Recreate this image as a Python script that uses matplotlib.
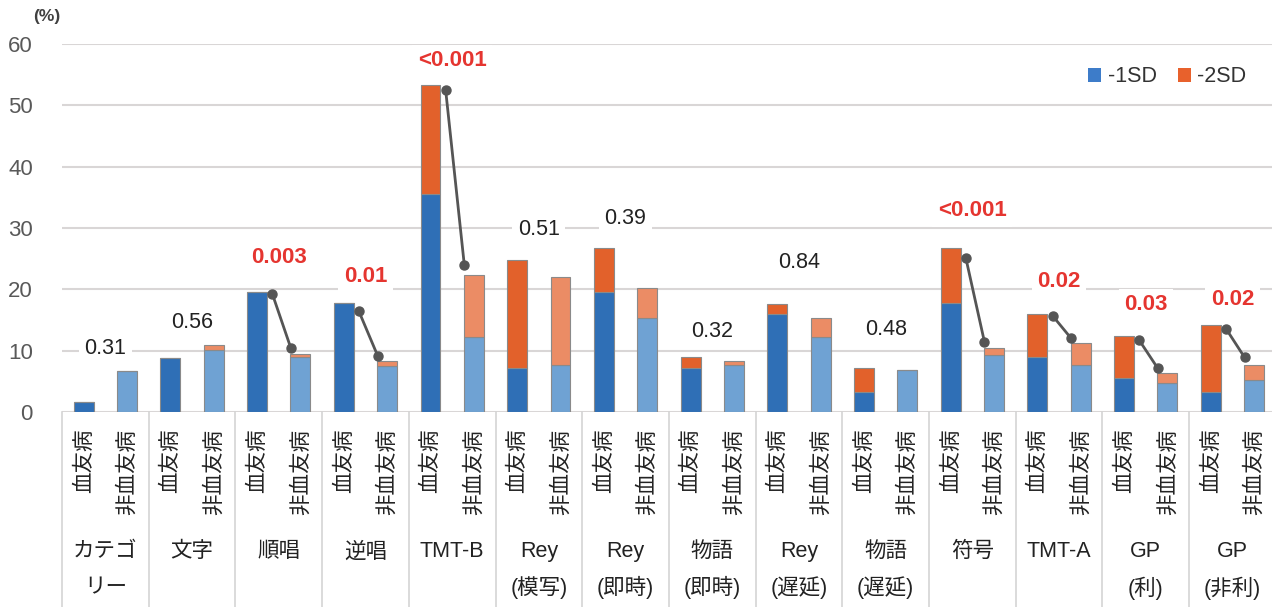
import matplotlib
matplotlib.use("Agg")
import matplotlib.pyplot as plt
from matplotlib.patches import Patch
from matplotlib.lines import Line2D

plt.rcParams['font.family'] = ['Liberation Sans', 'Noto Sans CJK JP', 'DejaVu Sans']

# データ
categories = ['カテゴ\nリー', '文字', '順唱', '逆唱', 'TMT-B', 'Rey\n(模写)', 'Rey\n(即時)',
              '物語\n(即時)', 'Rey\n(遅延)', '物語\n(遅延)', '符号', 'TMT-A', 'GP\n(利)', 'GP\n(非利)']
groups = ['血友病', '非血友病']

hemo_1sd = [1.6, 8.8, 19.6, 17.8, 35.5, 7.1, 19.5, 7.1, 16.0, 3.3, 17.7, 8.9, 5.5, 3.3]
hemo_2sd = [0, 0, 0, 0, 17.8, 17.7, 7.2, 1.8, 1.6, 3.8, 9.0, 7.1, 6.9, 10.9]
non_1sd = [6.7, 10.1, 9.0, 7.5, 12.2, 7.6, 15.4, 7.7, 12.3, 6.8, 9.3, 7.7, 4.7, 5.2]
non_2sd = [0, 0.8, 0.4, 0.8, 10.1, 14.4, 4.8, 0.6, 3.1, 0, 1.1, 3.6, 1.6, 2.5]

p_values = ['0.31', '0.56', '0.003', '0.01', '<0.001', '0.51', '0.39', '0.32', '0.84', '0.48',
            '<0.001', '0.02', '0.03', '0.02']
p_y = [10.4, 14.6, 25.2, 22.1, 57.3, 29.8, 31.6, 13.1, 24.3, 13.4, 32.8, 21.2, 17.5, 18.3]

# 有意差の線（血友病側 → 非血友病側）
conn_idx = [2, 3, 4, 10, 11, 12, 13]
conn_start = [19.3, 16.4, 52.5, 25.1, 15.7, 11.7, 13.6]
conn_end = [10.4, 9.2, 24.0, 11.4, 12.0, 7.1, 8.9]

yticks = [0, 10, 20, 30, 40, 50, 60]

# 色
c_h1 = '#2f6fb6'
c_h2 = '#e2612b'
c_n1 = '#6fa2d3'
c_n2 = '#eb8c65'
red = '#e53530'

fig = plt.figure(figsize=(12.72, 6.07), dpi=100)
ax = fig.add_axes([62 / 1272, (607 - 412) / 607, 1210 / 1272, 368 / 607])

n = len(categories)
xh = [2 * i for i in range(n)]
xn = [2 * i + 1 for i in range(n)]
w = 0.46

ax.bar(xh, hemo_1sd, w, color=c_h1, edgecolor='#8a8a8a', linewidth=0.8, zorder=3)
ax.bar(xh, hemo_2sd, w, bottom=hemo_1sd, color=c_h2, edgecolor='#8a8a8a', linewidth=0.8, zorder=3)
ax.bar(xn, non_1sd, w, color=c_n1, edgecolor='#8a8a8a', linewidth=0.8, zorder=3)
ax.bar(xn, non_2sd, w, bottom=non_1sd, color=c_n2, edgecolor='#8a8a8a', linewidth=0.8, zorder=3)

# 線
for k, i in enumerate(conn_idx):
    ax.plot([2 * i + 0.35, 2 * i + 0.78], [conn_start[k], conn_end[k]], color='#555555',
            lw=2, marker='o', ms=6.5, zorder=4)

# p値
for i, p in enumerate(p_values):
    sig = float(p.lstrip('<')) < 0.05
    ax.text(2 * i + 0.5, p_y[i], p, ha='center', va='center', fontsize=16 if sig else 15.5,
            color=red if sig else '#222222', fontweight='bold' if sig else 'normal',
            bbox=dict(facecolor='white', edgecolor='none', pad=4), zorder=5, clip_on=False)

ax.set_xlim(-0.5, -0.5 + 1210 / 43.35)
ax.set_ylim(0, 60)
ax.set_yticks(yticks)
ax.yaxis.grid(True, color='#d9d6d6', lw=1.5, zorder=0)
ax.tick_params(axis='y', length=0, pad=21, labelsize=16, labelcolor='#595959')
ax.tick_params(axis='x', length=0, labelbottom=False)
for s in ax.spines.values():
    s.set_visible(False)

# 下の表
xt = ax.get_xaxis_transform()
for i in range(n + 1):
    ax.add_line(Line2D([2 * i - 0.5, 2 * i - 0.5], [0, -0.54], transform=xt,
                       color='#d4d4d4', lw=1.2, clip_on=False))
for i in range(n):
    for j, g in enumerate(groups):
        ax.text(2 * i + j, -0.046, g, rotation=90, ha='center', va='top', fontsize=15.5,
                family='Noto Sans CJK JP', color='#222222', transform=xt)
    lines = categories[i].split('\n')
    for k, s in enumerate(lines):
        ax.text(2 * i + 0.5, -0.38 - 0.098 * k, s, ha='center', va='center', fontsize=15.5,
                color='#222222', transform=xt)

fig.text(47 / 1272, 1 - 17 / 607, '(%)', ha='center', va='center', fontsize=12.5,
         color='#404040', fontweight='bold')

handles = [Patch(facecolor='#3d7cc9', edgecolor='none', label='-1SD'),
           Patch(facecolor='#e8612c', edgecolor='none', label='-2SD')]
fig.legend(handles=handles, loc='center right', bbox_to_anchor=(1266 / 1272, 1 - 77 / 607),
           ncol=2, frameon=False, fontsize=15.5, handlelength=0.6, handleheight=0.6,
           handletextpad=0.3, columnspacing=1.0, labelcolor='#333333')

fig.savefig('out.png', dpi=100)
